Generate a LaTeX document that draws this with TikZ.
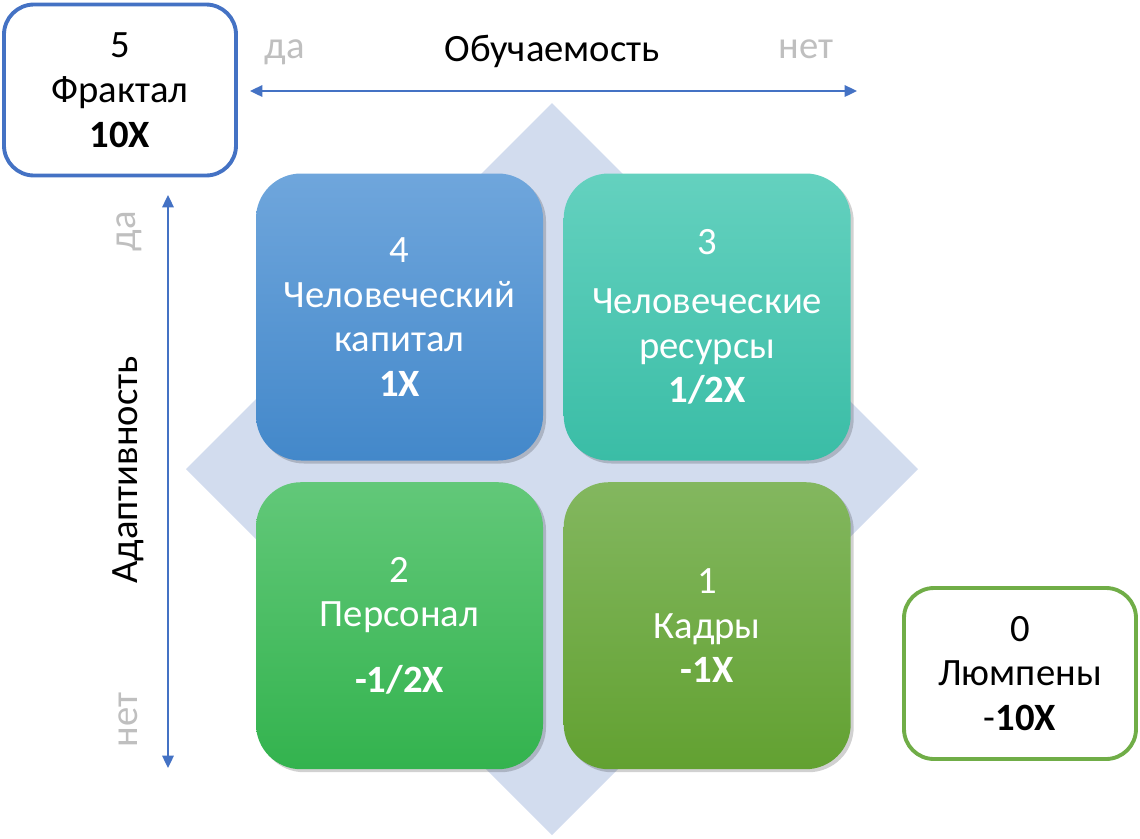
\documentclass[tikz,border=0pt]{standalone}
\usepackage{fontspec}
\setmainfont{Carlito}
\usetikzlibrary{arrows.meta, positioning, shadows}
\definecolor{bluassi}{HTML}{4472C4}
\definecolor{grigioetich}{HTML}{BFBFBF}
\definecolor{rombo}{HTML}{D2DCEE}
\definecolor{verdebordo}{HTML}{70AD47}
\definecolor{blusu}{HTML}{6FA6DC}
\definecolor{blugiu}{HTML}{4388CA}
\definecolor{turchesesu}{HTML}{64D1BF}
\definecolor{turchesegiu}{HTML}{3ABDA6}
\definecolor{verdesu}{HTML}{62C879}
\definecolor{verdegiu}{HTML}{33B34E}
\definecolor{olivasu}{HTML}{83B75F}
\definecolor{olivagiu}{HTML}{62A131}

\begin{document}
\begin{tikzpicture}[
  font=\fontsize{22}{25.5}\selectfont,
  quadrato/.style={rounded corners=0.9cm, minimum width=5.74cm, minimum height=5.74cm,
                   align=center, text=white, inner sep=2pt,
                   drop shadow={fill=black, opacity=0.18, shadow xshift=0.06cm, shadow yshift=-0.06cm}},
  riquadro/.style={draw, line width=2.2pt, rounded corners=0.6cm, fill=white,
                   minimum width=4.64cm, minimum height=3.42cm, align=center},
  freccia/.style={draw=bluassi, line width=1.1pt,
                  {Triangle[length=7pt,width=6.5pt]}-{Triangle[length=7pt,width=6.5pt]}},
  etichetta/.style={text=grigioetich}
]

% cornice della pagina, stesse proporzioni dell'originale
\useasboundingbox (0,0) rectangle (22.8,-16.76);

% ---- rombo di sfondo ------------------------------------------------
\fill[rombo] (11.04,-2.06) -- (18.36,-9.38) -- (11.04,-16.70) -- (3.72,-9.38) -- cycle;

% ---- quadranti ------------------------------------------------------
\node[quadrato, top color=blusu, bottom color=blugiu] (capitale) at (7.99,-6.34)
  {4\\Человеческий\\капитал\\\textbf{1X}};
\node[quadrato, top color=turchesesu, bottom color=turchesegiu, right=0.4cm of capitale] (risorse)
  {3\\[8pt]Человеческие\\ресурсы\\\textbf{1/2X}};
\node[quadrato, top color=verdesu, bottom color=verdegiu, below=0.42cm of capitale] (personale)
  {2\\Персонал\\[12pt]\textbf{-1/2X}};
\node[quadrato, top color=olivasu, bottom color=olivagiu, below=0.42cm of risorse] (quadri)
  {1\\Кадры\\\textbf{-1X}};

% ---- riquadri agli estremi ------------------------------------------
\node[riquadro, draw=bluassi] (frattale) at (2.4,-1.8) {5\\Фрактал\\\textbf{10X}};
\node[riquadro, draw=verdebordo] (lumpen) at (20.4,-13.47) {0\\Люмпены\\-\textbf{10X}};

% ---- assi -----------------------------------------------------------
\coordinate (oriz sx) at (5.0,-1.82);
\coordinate (oriz dx) at (17.14,-1.82);
\coordinate (vert su) at (3.36,-3.9);
\coordinate (vert giu) at (3.36,-15.36);
\draw[freccia] (oriz sx) -- (oriz dx);
\draw[freccia] (vert su) -- (vert giu);

\node (obuch) at (11.04,-1.02) {Обучаемость};
\node[etichetta] (obuch da) at (5.7,-1.04) {да};
\node[etichetta] (obuch net) at (16.12,-0.98) {нет};

\node[rotate=90] (adapt) at (2.56,-9.4) {Адаптивность};
\node[etichetta, rotate=90] (adapt da) at (2.58,-4.62) {да};
\node[etichetta, rotate=90] (adapt net) at (2.56,-14.4) {нет};

\end{tikzpicture}
\end{document}
